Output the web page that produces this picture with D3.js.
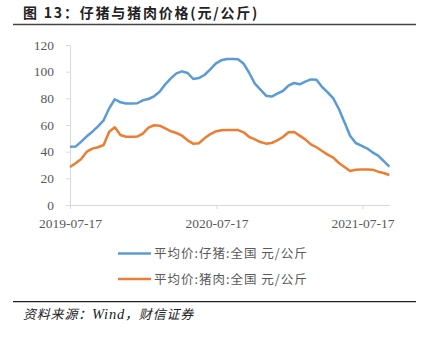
<!DOCTYPE html>
<html><head><meta charset="utf-8">
<script src="https://cdn.jsdelivr.net/npm/d3@7"></script>
<style>
body{margin:0;background:#fff;}
svg{display:block;}
</style></head>
<body>
<svg id="c" width="429" height="337"></svg>
<script>
const titleText = "图 13：仔猪与猪肉价格(元/公斤)";
const sourceParts = ["资料来源：", "Wind", "，财信证券"];
const seriesNames = ["平均价:仔猪:全国 元/公斤", "平均价:猪肉:全国 元/公斤"];
const startDate = "2019-07-17";
const stepDays = 14;
const piglet = [43.7,43.8,47.5,51.5,55,59,63.5,72.5,79.3,77,76.2,76.2,76.3,78.5,79.5,81.5,85,90.5,95,98.7,100.2,99,94.5,95.2,97.5,101.5,106,108.5,109.5,109.5,109.3,106,99,91,86.5,82,81.3,83.5,85.5,89.5,91.5,90.5,92.5,94.2,94,88.5,84.5,80,72,62,52,46.5,44.5,42.5,39.5,37,33,28.7];
const pork = [28.5,31.3,34.5,40,42.3,43.3,45,55,58.3,52.5,51.2,51.2,51.3,53.5,58,59.8,59.5,57.5,55.3,54,52,48.5,46,46.3,50,53,55.2,56,56.2,56.2,56.2,54.5,51,49.2,47.2,46,46.5,48.5,51,54.5,54.7,52,49.2,45.5,43.3,40.5,37.8,35.5,31.5,28.5,25.5,26.5,26.7,26.7,26.5,25,24,22.5];
const yTicks = [0,20,40,60,80,100,120];
const xTickLabels = ["2019-07-17","2020-07-17","2021-07-17"];
const colors = ["#5B9BD5","#ED7D31"];

const parse = d3.timeParse("%Y-%m-%d");
const t0 = parse(startDate);
const dates = piglet.map((_, i) => d3.timeDay.offset(t0, i * stepDays));

const svg = d3.select("#c");
const x = d3.scaleTime().domain([t0, dates[dates.length-1]]).range([70, 389.3]);
const y = d3.scaleLinear().domain([0,120]).range([205, 45]);

// title
svg.append("text").attr("x", 23).attr("y", 18)
  .attr("font-family", "'Noto Sans CJK SC', sans-serif").attr("font-weight", "bold")
  .attr("font-size", 14).attr("letter-spacing", 1.8).attr("fill", "#222").text(titleText);
svg.append("line").attr("x1", 13).attr("x2", 416).attr("y1", 24.5).attr("y2", 24.5)
  .attr("stroke", "#444").attr("stroke-width", 1.5);

// y axis
const yAxis = svg.append("g").attr("transform", "translate(70,0)")
  .call(d3.axisLeft(y).tickValues(yTicks).tickSize(4).tickPadding(12));
yAxis.select(".domain").attr("stroke", "#D9D9D9");
yAxis.selectAll(".tick line").attr("stroke", "#D9D9D9");
yAxis.selectAll("text").attr("font-family", "'Liberation Serif', 'Times New Roman', serif").attr("font-size", 13.5).attr("fill", "#595959");

// x axis
const xAxis = svg.append("g").attr("transform", "translate(0,205)")
  .call(d3.axisBottom(x).tickValues(xTickLabels.map(parse)).tickFormat(d3.timeFormat("%Y-%m-%d")).tickSize(4).tickPadding(9).tickSizeOuter(0));
xAxis.select(".domain").attr("stroke", "#D9D9D9");
xAxis.selectAll(".tick line").attr("stroke", "#D9D9D9");
xAxis.selectAll("text").attr("font-family", "'Liberation Serif', 'Times New Roman', serif").attr("font-size", 13.5).attr("fill", "#595959");

// lines
const line = d3.line().x((d, i) => x(dates[i])).y(d => y(d));
[piglet, pork].forEach((s, k) => {
  svg.append("path").datum(s).attr("d", line).attr("fill", "none")
    .attr("stroke", colors[k]).attr("stroke-width", 2.5).attr("stroke-linejoin", "round");
});

// legend
const legY = [253.5, 279];
seriesNames.forEach((n, k) => {
  svg.append("line").attr("x1", 118).attr("x2", 151).attr("y1", legY[k]).attr("y2", legY[k])
    .attr("stroke", colors[k]).attr("stroke-width", 2.5);
  svg.append("text").attr("x", 154).attr("y", legY[k] + 4.5)
    .attr("font-family", "'Noto Sans CJK SC', sans-serif").attr("font-size", 12.5)
    .attr("letter-spacing", 1).attr("fill", "#595959").text(n);
});

// footer
svg.append("line").attr("x1", 13).attr("x2", 416).attr("y1", 301.7).attr("y2", 301.7)
  .attr("stroke", "#222").attr("stroke-width", 1.2);
const src = svg.append("text").attr("x", 23).attr("y", 319)
  .attr("font-family", "'Noto Sans CJK SC', sans-serif").attr("font-style", "italic")
  .attr("font-size", 13).attr("letter-spacing", 0.8).attr("fill", "#222");
sourceParts.forEach((p, i) => {
  const t = src.append("tspan").text(p);
  if (i === 1) t.attr("font-family", "'Liberation Serif', serif").attr("font-size", 14.5);
});
</script>
</body></html>
